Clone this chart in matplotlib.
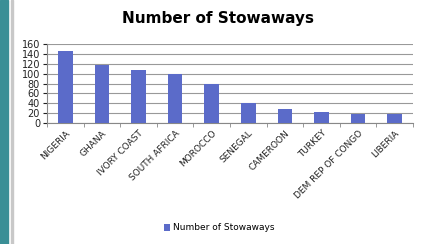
import numpy as np
import matplotlib
matplotlib.use("Agg")
from matplotlib import pyplot as plt
from matplotlib.patches import Rectangle

countries = ["NIGERIA", "GHANA", "IVORY COAST", "SOUTH AFRICA", "MOROCCO",
             "SENEGAL", "CAMEROON", "TURKEY", "DEM REP OF CONGO", "LIBERIA"]
stowaways = [145, 117, 107, 99, 80, 40, 28, 22, 19, 19]
yticks = [0, 20, 40, 60, 80, 100, 120, 140, 160]

BAR_COLOR = "#5b6bc9"

fig = plt.figure(figsize=(4.21, 2.44), dpi=100)
fig.patch.set_facecolor("white")

# slide decoration on the left
fig.patches.append(Rectangle((0, 0), 8 / 421, 1, transform=fig.transFigure,
                             color="#3a8f96", zorder=0))
fig.patches.append(Rectangle((11 / 421, 0), 1.5 / 421, 1, transform=fig.transFigure,
                             color="#c8c8c8", zorder=0))

ax = fig.add_axes([47 / 421, 1 - 123 / 244, 366 / 421, 79 / 244])
x = np.arange(len(countries))
ax.bar(x, stowaways, width=0.4, color=BAR_COLOR, zorder=3,
       label="Number of Stowaways")

ax.set_xlim(-0.5, len(countries) - 0.5)
ax.set_ylim(0, 160)
ax.set_yticks(yticks)
ax.yaxis.grid(True, color="#999999", linewidth=0.8, zorder=0)
ax.tick_params(axis="y", labelsize=7, length=3, pad=2, colors="#222222")
ax.set_xticks(x)
ax.set_xticklabels(countries, rotation=45, ha="right", rotation_mode="anchor",
                   fontsize=6.5, color="#222222")
ax.set_xticks(np.arange(len(countries) + 1) - 0.5, minor=True)
ax.tick_params(axis="x", which="major", length=0, pad=4)
ax.tick_params(axis="x", which="minor", length=3, color="#888888")
for s in ["top", "right"]:
    ax.spines[s].set_visible(False)
ax.spines["left"].set_color("#888888")
ax.spines["bottom"].set_color("#888888")

fig.text(218 / 421, 1 - 18 / 244, "Number of Stowaways", ha="center", va="center",
         fontsize=11, fontweight="bold")

handles, labels = ax.get_legend_handles_labels()
fig.legend(handles, labels, loc="center", bbox_to_anchor=(0.52, 1 - 228 / 244),
           frameon=False, fontsize=6.5, handlelength=0.7, handleheight=0.7,
           handletextpad=0.3)

fig.savefig("out.png", dpi=100)
